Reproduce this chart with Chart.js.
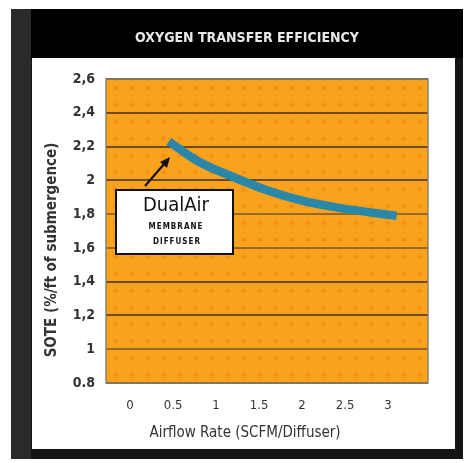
<!DOCTYPE html>
<html>
<head>
<meta charset="utf-8">
<script src="https://cdn.jsdelivr.net/npm/chart.js@4/dist/chart.umd.min.js"></script>
<style>
  html, body { margin: 0; padding: 0; background: #fff; }
  #wrap { width: 467px; height: 463px; position: relative; }
</style>
</head>
<body>
<div id="wrap"><canvas id="oteChart"></canvas></div>
<script>
// data
const airflow = [0.45, 0.8, 1.2, 1.6, 2.0, 2.4, 2.8, 3.1];
const sote = [2.23, 2.11, 2.02, 1.94, 1.88, 1.84, 1.81, 1.79];
const xTicks = [0, 0.5, 1, 1.5, 2, 2.5, 3];
const yTicks = [0.8, 1, 1.2, 1.4, 1.6, 1.8, 2, 2.2, 2.4, 2.6];
const yTickLabels = ['0.8', '1', '1,2', '1,4', '1,6', '1,8', '2', '2,2', '2,4', '2,6'];

const chartTitle = 'OXYGEN TRANSFER EFFICIENCY';
const xTitle = 'Airflow Rate (SCFM/Diffuser)';
const yTitle = 'SOTE (%/ft of submergence)';
const noteLines = ['DualAir', 'MEMBRANE', 'DIFFUSER'];

const FONT = '"DejaVu Sans Condensed", "Liberation Sans Narrow", "DejaVu Sans", sans-serif';

function yLabel(v) {
    for (let i = 0; i < yTicks.length; i++) {
        if (Math.abs(yTicks[i] - v) < 1e-6) return yTickLabels[i];
    }
    return '';
}

const framePlugin = {
    id: 'frame',
    beforeDraw(chart) {
        const ctx = chart.ctx;
        const a = chart.chartArea;
        ctx.save();
        // outer dark frame
        ctx.fillStyle = '#151515';
        ctx.fillRect(11, 9, 452, 450);
        ctx.fillStyle = '#2a2a2a';
        ctx.fillRect(11, 9, 20, 450);
        ctx.fillStyle = '#000';
        ctx.fillRect(31, 9, 432, 49);
        ctx.fillStyle = '#fff';
        ctx.fillRect(32, 58, 423, 391);

        // header title
        ctx.fillStyle = '#e8e8e8';
        ctx.font = 'bold 14px ' + FONT;
        ctx.textAlign = 'center';
        ctx.textBaseline = 'middle';
        ctx.fillText(chartTitle, 247, 38);

        // orange plot background with soft dots
        ctx.fillStyle = '#f9a21d';
        ctx.fillRect(a.left, a.top, a.right - a.left, a.bottom - a.top);
        const yScale = chart.scales.y;
        const half = (yScale.getPixelForValue(0.8) - yScale.getPixelForValue(1)) / 2;
        ctx.fillStyle = 'rgba(236, 120, 22, 0.35)';
        for (let y = a.top + half / 2; y < a.bottom; y += half) {
            for (let x = a.left + 9; x < a.right; x += 16) {
                ctx.fillRect(x - 2, y - 0.5, 5, 2);
                ctx.fillRect(x - 0.5, y - 2, 2, 5);
            }
        }

        // axis titles
        ctx.fillStyle = '#333';
        ctx.font = '15px ' + FONT;
        ctx.fillText(xTitle, 245, 433);
        ctx.translate(52, 250);
        ctx.rotate(-Math.PI / 2);
        ctx.font = 'bold 15px ' + FONT;
        ctx.fillText(yTitle, 0, 0);
        ctx.restore();
    },
    afterDraw(chart) {
        const ctx = chart.ctx;
        const a = chart.chartArea;
        ctx.save();
        // plot border
        ctx.strokeStyle = '#8c8272';
        ctx.lineWidth = 1.5;
        ctx.strokeRect(a.left, a.top, a.right - a.left, a.bottom - a.top);

        // note box
        ctx.fillStyle = '#fff';
        ctx.fillRect(116, 190, 117, 64);
        ctx.strokeStyle = '#111';
        ctx.lineWidth = 2;
        ctx.strokeRect(116, 190, 117, 64);
        ctx.fillStyle = '#111';
        ctx.textAlign = 'center';
        ctx.textBaseline = 'middle';
        ctx.font = '20px ' + FONT;
        ctx.fillText(noteLines[0], 176, 206);
        ctx.font = 'bold 8px ' + FONT;
        ctx.letterSpacing = '1px';
        ctx.fillText(noteLines[1], 176, 227);
        ctx.fillText(noteLines[2], 177, 242);
        ctx.letterSpacing = '0px';

        // arrow
        ctx.strokeStyle = '#111';
        ctx.lineWidth = 2.2;
        ctx.beginPath();
        ctx.moveTo(145, 186);
        ctx.lineTo(165, 163);
        ctx.stroke();
        ctx.beginPath();
        ctx.moveTo(170, 157);
        ctx.lineTo(160, 162);
        ctx.lineTo(167, 168);
        ctx.closePath();
        ctx.fill();
        ctx.restore();
    }
};

const ctxEl = document.getElementById('oteChart');
new Chart(ctxEl, {
    type: 'line',
    data: {
        datasets: [{
            label: 'SOTE',
            data: airflow.map((x, i) => ({ x: x, y: sote[i] })),
            borderColor: '#2b87a7',
            borderWidth: 8.5,
            borderCapStyle: 'butt',
            pointRadius: 0,
            fill: false,
            cubicInterpolationMode: 'monotone'
        }]
    },
    options: {
        responsive: true,
        maintainAspectRatio: false,
        animation: false,
        events: [],
        layout: {
            padding: { left: 32, top: 79, right: 39, bottom: 14 }
        },
        plugins: {
            legend: { display: false },
            title: { display: false },
            tooltip: { enabled: false }
        },
        scales: {
            x: {
                type: 'linear',
                min: -0.28,
                max: 3.465,
                afterBuildTicks: function(scale) {
                    scale.ticks = xTicks.map(v => ({ value: v }));
                },
                afterFit: function(scale) {
                    scale.height = 66;
                },
                grid: { display: false, drawTicks: false },
                border: { display: false },
                ticks: {
                    padding: 15,
                    maxRotation: 0,
                    autoSkip: false,
                    color: '#333',
                    font: { family: FONT, size: 13 },
                    callback: function(value) {
                        return String(value);
                    }
                }
            },
            y: {
                min: 0.8,
                max: 2.6,
                afterBuildTicks: function(scale) {
                    scale.ticks = yTicks.map(v => ({ value: v }));
                },
                afterFit: function(scale) {
                    scale.width = 74;
                },
                grid: {
                    drawTicks: false,
                    lineWidth: 2,
                    color: function(c) {
                        const v = c.tick ? c.tick.value : 0;
                        if (Math.abs(v - 1.8) < 1e-6 || Math.abs(v - 1.6) < 1e-6 || Math.abs(v - 1) < 1e-6) {
                            return 'rgba(120, 84, 40, 0.75)';
                        }
                        return '#6e4a1c';
                    }
                },
                border: { display: false },
                ticks: {
                    padding: 11,
                    autoSkip: false,
                    color: '#333',
                    font: { family: FONT, size: 14, weight: 'bold' },
                    callback: function(value) {
                        return yLabel(value);
                    }
                }
            }
        }
    },
    plugins: [framePlugin]
});
</script>
</body>
</html>
